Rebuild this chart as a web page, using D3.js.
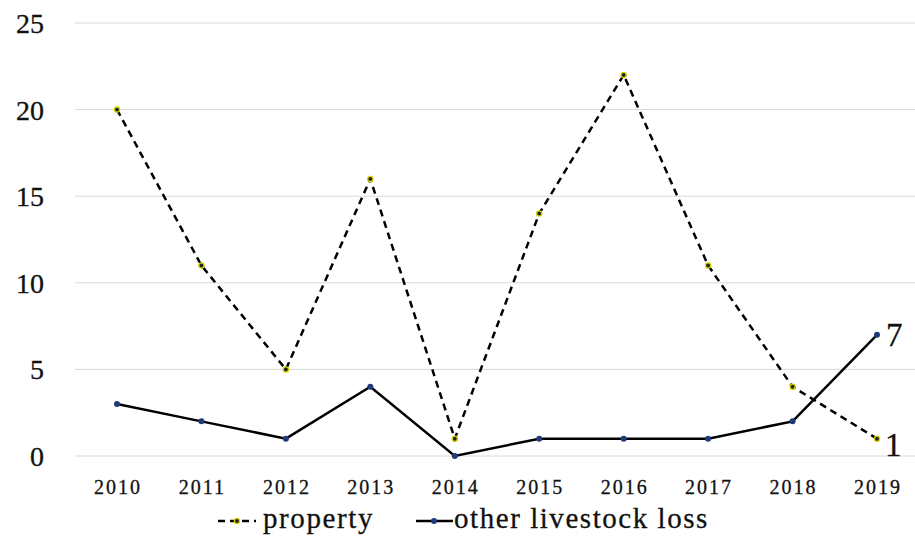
<!DOCTYPE html>
<html lang="en">
<head>
<meta charset="UTF-8">
<script src="https://cdn.jsdelivr.net/npm/d3@7"></script>
<style>
  body { margin: 0; background: #fff; }
  text { font-family: "Liberation Serif", "DejaVu Serif", serif; fill: #111; stroke: #111; stroke-width: 0.3px; }
</style>
</head>
<body>
<svg id="chart" width="915" height="542"></svg>
<script>
var years = ["2010","2011","2012","2013","2014","2015","2016","2017","2018","2019"];
var property = [20, 11, 5, 16, 1, 14, 22, 11, 4, 1];
var livestock = [3, 2, 1, 4, 0, 1, 1, 1, 2, 7];
var yTicks = [0, 5, 10, 15, 20, 25];

var svg = d3.select("#chart");

var x = d3.scalePoint().domain(years).range([117, 877]);
var y = d3.scaleLinear().domain([0, 25]).range([456, 23]);

// gridlines
svg.append("g").selectAll("line")
  .data(yTicks)
  .enter().append("line")
  .attr("x1", 75).attr("x2", 915)
  .attr("y1", function(d) { return y(d); })
  .attr("y2", function(d) { return y(d); })
  .attr("stroke", "#d9d9d9").attr("stroke-width", 1);

// y labels
svg.append("g").selectAll("text")
  .data(yTicks)
  .enter().append("text")
  .attr("x", 44)
  .attr("y", function(d) { return y(d) + 10; })
  .attr("text-anchor", "end")
  .style("font-size", "28px")
  .text(function(d) { return d; });

// x labels
svg.append("g").selectAll("text")
  .data(years)
  .enter().append("text")
  .attr("x", function(d) { return x(d) + 1; })
  .attr("y", 494)
  .attr("text-anchor", "middle")
  .style("font-size", "20px")
  .style("letter-spacing", "2px")
  .text(function(d) { return d; });

var line = d3.line()
  .x(function(d, i) { return x(years[i]); })
  .y(function(d) { return y(d); });

svg.append("path").datum(property)
  .attr("d", line).attr("fill", "none")
  .attr("stroke", "#000").attr("stroke-width", 2.5)
  .attr("stroke-dasharray", "7,5");

svg.append("path").datum(livestock)
  .attr("d", line).attr("fill", "none")
  .attr("stroke", "#000").attr("stroke-width", 2.5);

svg.append("g").selectAll("circle")
  .data(property)
  .enter().append("circle")
  .attr("cx", function(d, i) { return x(years[i]); })
  .attr("cy", function(d) { return y(d); })
  .attr("r", 2.6)
  .attr("fill", "#222").attr("stroke", "#d4d400").attr("stroke-width", 1.3);

svg.append("g").selectAll("circle")
  .data(livestock)
  .enter().append("circle")
  .attr("cx", function(d, i) { return x(years[i]); })
  .attr("cy", function(d) { return y(d); })
  .attr("r", 3)
  .attr("fill", "#1f3a7a");

// end labels
var last = years.length - 1;
svg.append("text")
  .attr("x", x(years[last]) + 9).attr("y", y(livestock[last]) + 11)
  .style("font-size", "33px").text(livestock[last]);
svg.append("text")
  .attr("x", x(years[last]) + 8).attr("y", y(property[last]) + 17)
  .style("font-size", "33px").text(property[last]);

// legend
var lg = svg.append("g");
lg.append("line").attr("x1", 218).attr("x2", 256).attr("y1", 521).attr("y2", 521)
  .attr("stroke", "#000").attr("stroke-width", 2.5).attr("stroke-dasharray", "7,5");
lg.append("circle").attr("cx", 237).attr("cy", 521).attr("r", 2.6)
  .attr("fill", "#222").attr("stroke", "#d4d400").attr("stroke-width", 1.3);
lg.append("text").attr("x", 263).attr("y", 528).style("font-size", "29px")
  .style("letter-spacing", "1.6px").text("property");

lg.append("line").attr("x1", 416).attr("x2", 453).attr("y1", 521).attr("y2", 521)
  .attr("stroke", "#000").attr("stroke-width", 2.5);
lg.append("circle").attr("cx", 434).attr("cy", 521).attr("r", 3).attr("fill", "#1f3a7a");
lg.append("text").attr("x", 454).attr("y", 528).style("font-size", "29px")
  .style("letter-spacing", "1.55px").text("other livestock loss");
</script>
</body>
</html>
